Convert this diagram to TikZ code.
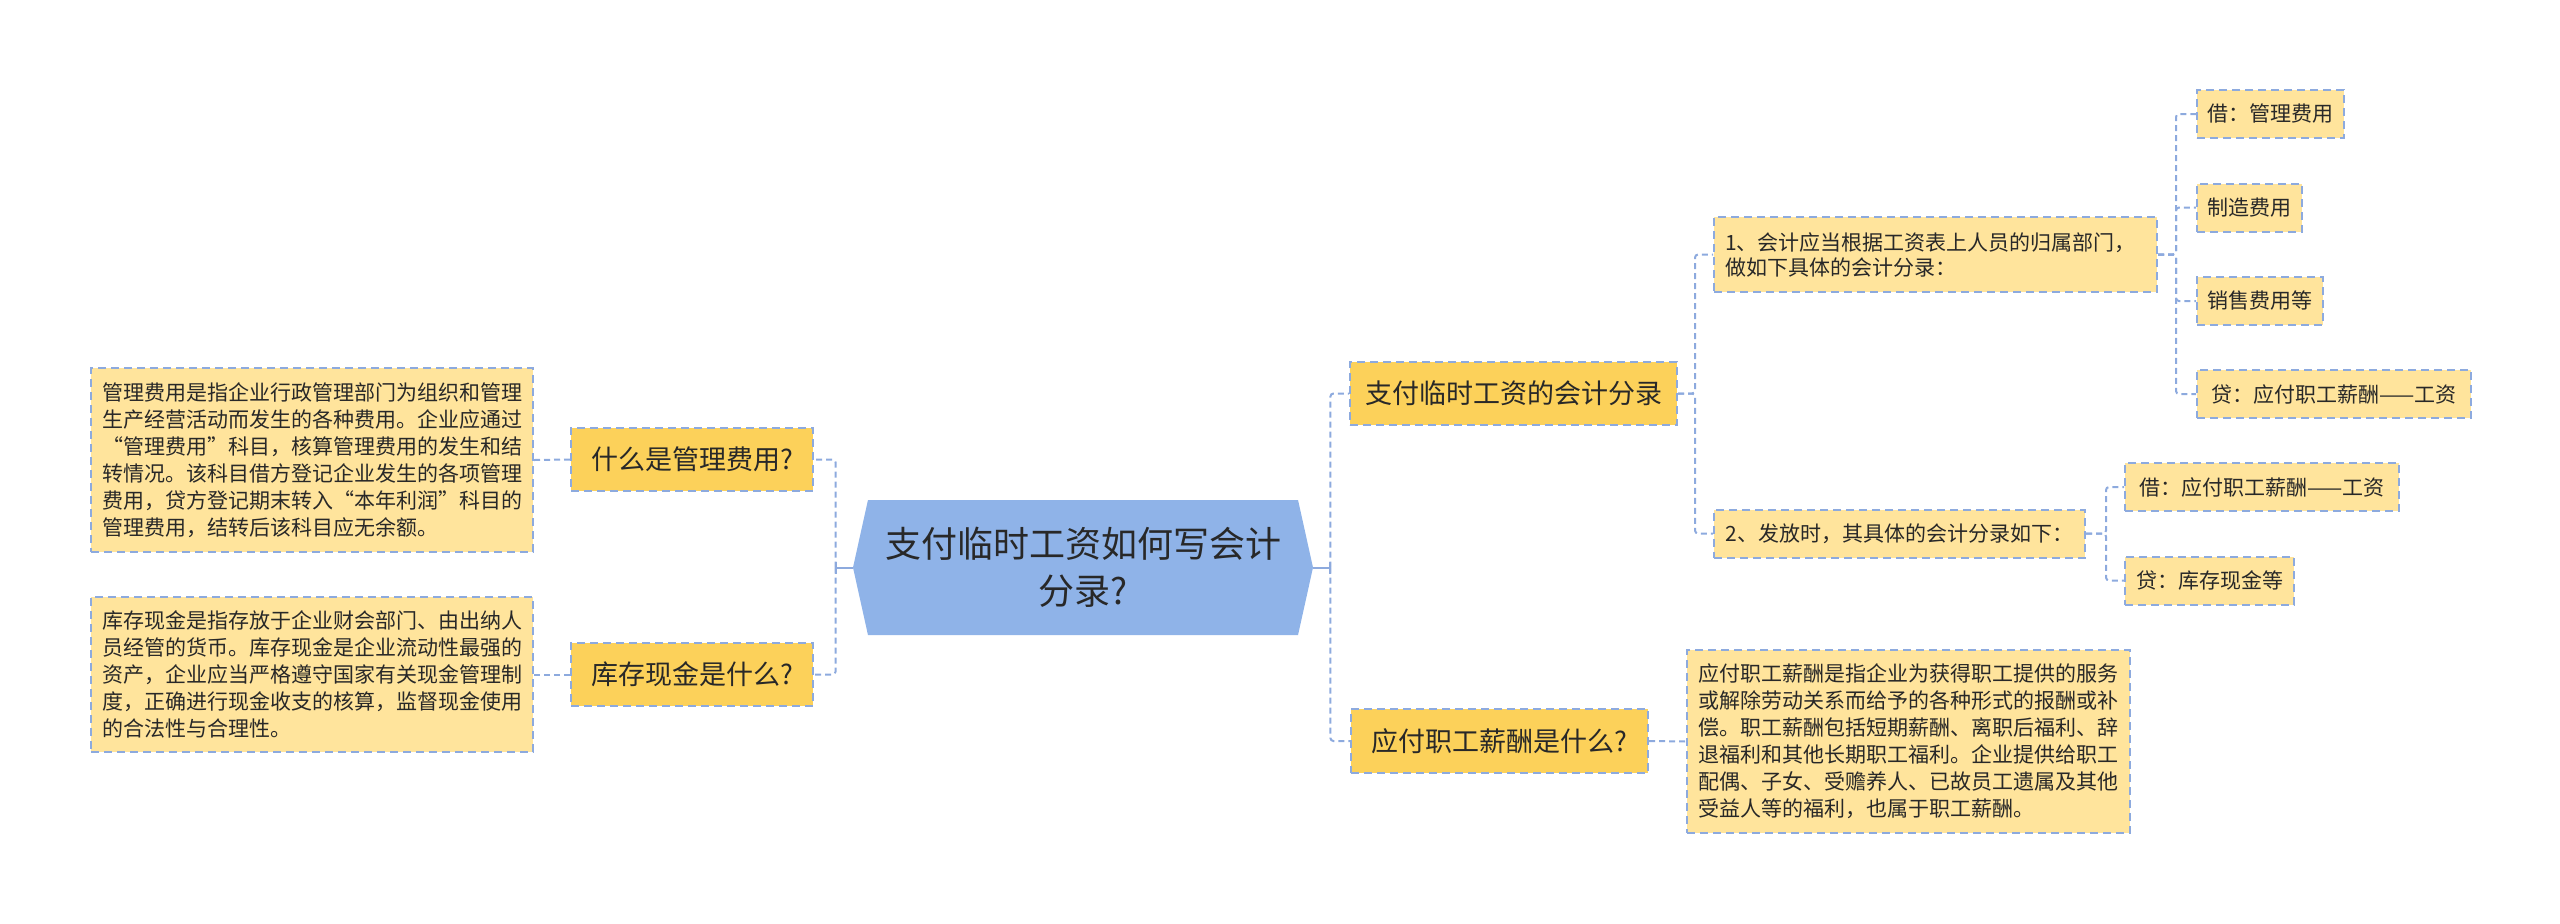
\documentclass[tikz,border=0pt]{standalone}
\usepackage{fontspec}
\setmainfont{Noto Sans CJK SC}
\usetikzlibrary{shapes.symbols}
\definecolor{sky}{RGB}{143,179,232}
\definecolor{wire}{RGB}{141,170,222}
\definecolor{gold}{RGB}{252,209,90}
\definecolor{cream}{RGB}{255,228,156}
\definecolor{ink}{RGB}{40,40,40}
\tikzset{
  root/.style={signal,signal to=west and east,signal pointer angle=155,fill=sky,
    minimum width=230pt,minimum height=67.5pt,inner sep=0pt,align=center,
    text=ink,font=\fontsize{18}{23.5}\selectfont},
  topic/.style={draw=wire,line width=1pt,dash pattern=on 4pt off 2.5pt,fill=gold,
    minimum height=31.5pt,inner sep=0pt,text=ink,font=\fontsize{13.5}{16}\selectfont},
  leaf/.style={draw=wire,line width=1pt,dash pattern=on 4pt off 2.5pt,fill=cream,
    minimum height=24pt,inner sep=0pt,text=ink,font=\fontsize{10.5}{12.5}\selectfont},
  note/.style={draw=wire,line width=1pt,dash pattern=on 4pt off 2.5pt,fill=cream,
    inner xsep=5.5pt,inner ysep=0pt,align=left,text=ink,
    font=\fontsize{10.5}{13.5}\selectfont},
  link/.style={draw=wire,line width=1pt,dash pattern=on 3pt off 2pt,rounded corners=1.5pt},
  stem/.style={draw=wire,line width=1pt},
}

\begin{document}
\begin{tikzpicture}[x=0.5pt,y=-0.5pt]
  \useasboundingbox (0,0) rectangle (2560,923);
  \node[root] (ctr) at (1083,567.5) {支付临时工资如何写会计\\分录?};

  % left branch
  \node[topic,minimum width=121pt] (mgtq) at (692,459.5) {什么是管理费用?};
  \node[topic,minimum width=121pt] (cashq) at (692,674.5) {库存现金是什么?};
  \node[note,text width=210pt,minimum height=92pt] (mgtdesc) at (312,460)
    {管理费用是指企业行政管理部门为组织和管理\\生产经营活动而发生的各种费用。企业应通过\\“管理费用”科目，核算管理费用的发生和结\\转情况。该科目借方登记企业发生的各项管理\\费用，贷方登记期末转入“本年利润”科目的\\管理费用，结转后该科目应无余额。};
  \node[note,text width=210pt,minimum height=77.5pt] (cashdesc) at (312,674.5)
    {库存现金是指存放于企业财会部门、由出纳人\\员经管的货币。库存现金是企业流动性最强的\\资产，企业应当严格遵守国家有关现金管理制\\度，正确进行现金收支的核算，监督现金使用\\的合法性与合理性。};

  % right branch
  \node[topic,minimum width=163.5pt] (payq) at (1513.5,393.5) {支付临时工资的会计分录};
  \node[topic,minimum width=148.5pt,minimum height=32pt] (wageq) at (1499.5,741) {应付职工薪酬是什么?};
  \node[note,text width=210.5pt,minimum height=91.5pt] (wagedesc) at (1908.5,741.5)
    {应付职工薪酬是指企业为获得职工提供的服务\\或解除劳动关系而给予的各种形式的报酬或补\\偿。职工薪酬包括短期薪酬、离职后福利、辞\\退福利和其他长期职工福利。企业提供给职工\\配偶、子女、受赡养人、已故员工遗属及其他\\受益人等的福利，也属于职工薪酬。};
  \node[note,text width=210.5pt,minimum height=37.5pt,font=\fontsize{10.5}{12.5}\selectfont] (item1) at (1935.5,254.5)
    {1、会计应当根据工资表上人员的归属部门，\\做如下具体的会计分录：};
  \node[leaf,minimum width=185.5pt] (item2) at (1899.5,533.5) {2、发放时，其具体的会计分录如下：};

  \node[leaf,anchor=west,minimum width=73.5pt] (dr1) at (2196,114) {借：管理费用};
  \node[leaf,anchor=west,minimum width=52.5pt] (dr2) at (2196,207.5) {制造费用};
  \node[leaf,anchor=west,minimum width=63pt] (dr3) at (2196,301) {销售费用等};
  \node[leaf,anchor=west,minimum width=137pt] (cr1) at (2196,394) {贷：应付职工薪酬——工资};
  \node[leaf,anchor=west,minimum width=137pt] (dr4) at (2124,487) {借：应付职工薪酬——工资};
  \node[leaf,anchor=west,minimum width=84.5pt] (cr2) at (2124,580.5) {贷：库存现金等};

  % connectors
  \draw[stem] (ctr.west) -- ++(-17,0) coordinate (ltrunk);
  \draw[stem] ([yshift=-3pt]ltrunk) -- ([yshift=3pt]ltrunk);
  \draw[link] (ltrunk) |- (mgtq.east);
  \draw[link] (ltrunk) |- (cashq.east);
  \draw[link] (mgtq.west) -- (mgtdesc.east);
  \draw[link] (cashq.west) -- (cashdesc.east);

  \draw[stem] (ctr.east) -- ++(17,0) coordinate (rtrunk);
  \draw[stem] ([yshift=-3pt]rtrunk) -- ([yshift=3pt]rtrunk);
  \draw[link] (rtrunk) |- (payq.west);
  \draw[link] (rtrunk) |- (wageq.west);
  \draw[link] (wageq.east) -- (wagedesc.west);

  \foreach \n in {item1,item2} \draw[link] (payq.east) -- ++(17,0) |- (\n.west);
  \foreach \n in {dr1,dr2,dr3,cr1} \draw[link] (item1.east) -- ++(18,0) |- (\n.west);
  \foreach \n in {dr4,cr2} \draw[link] (item2.east) -- ++(20,0) |- (\n.west);
\end{tikzpicture}
\end{document}
